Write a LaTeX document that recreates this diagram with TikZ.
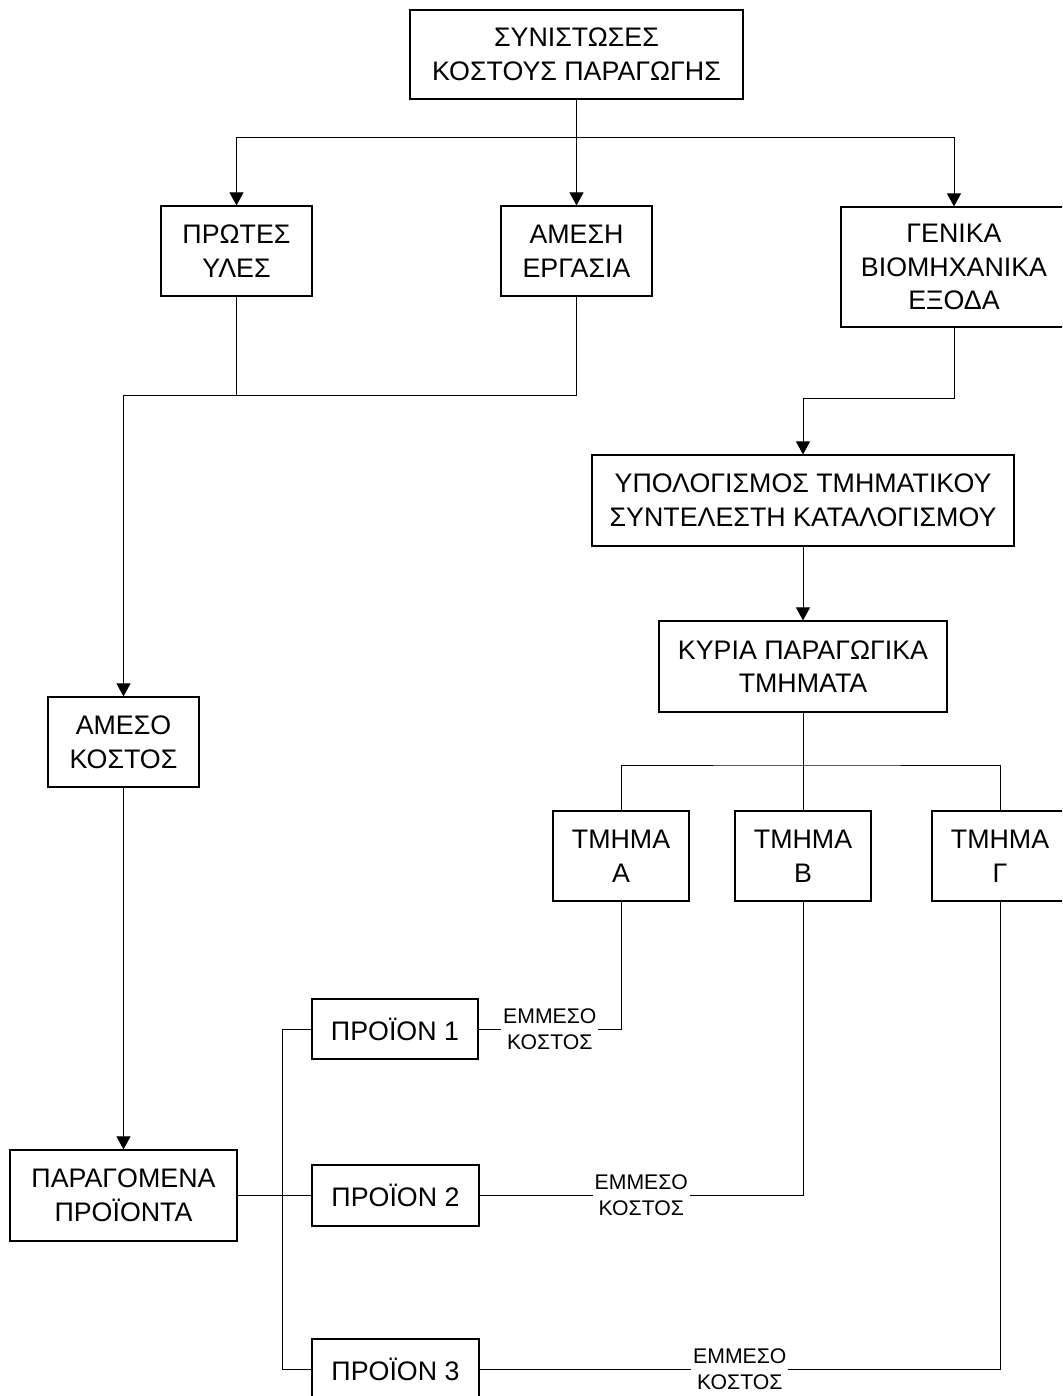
\documentclass[tikz,border=0pt]{standalone}
\usepackage{fontspec}
\setmainfont{Liberation Sans}
\usetikzlibrary{arrows.meta}
\begin{document}
\begin{tikzpicture}[x=0.5pt,y=-0.5pt,
  box/.style={draw, line width=0.6pt, fill=white, align=center, inner sep=0pt,
    font=\fontsize{13.4pt}{16.8pt}\selectfont},
  cost/.style={fill=white, align=center, inner xsep=1pt, inner ysep=1pt,
    font=\fontsize{10.6pt}{13pt}\selectfont},
  wire/.style={line width=0.5pt},
  feed/.style={wire, -{Triangle[length=6.5pt,width=7pt]}}]

\useasboundingbox (0,0) rectangle (1062,1396);
\fill[white] (0,0) rectangle (1062,1396);
\clip (0,0) rectangle (1062,1396);

% cost components
\node[box, minimum width=166.5pt, minimum height=44.5pt] (top) at (576.5,54.5)
  {ΣΥΝΙΣΤΩΣΕΣ\\ΚΟΣΤΟΥΣ ΠΑΡΑΓΩΓΗΣ};
\node[box, minimum width=75.5pt, minimum height=45pt] (protes) at (236.5,251)
  {ΠΡΩΤΕΣ\\ΥΛΕΣ};
\node[box, minimum width=75.5pt, minimum height=45pt] (ergasia) at (576.5,251)
  {ΑΜΕΣΗ\\ΕΡΓΑΣΙΑ};
\node[box, minimum width=113pt, minimum height=60pt] (genika) at (954,267)
  {ΓΕΝΙΚΑ\\ΒΙΟΜΗΧΑΝΙΚΑ\\ΕΞΟΔΑ};

% overhead allocation
\node[box, minimum width=211pt, minimum height=45.5pt] (ypol) at (803,500.5)
  {ΥΠΟΛΟΓΙΣΜΟΣ ΤΜΗΜΑΤΙΚΟΥ\\ΣΥΝΤΕΛΕΣΤΗ ΚΑΤΑΛΟΓΙΣΜΟΥ};
\node[box, minimum width=144pt, minimum height=45.5pt] (kyria) at (803,666.5)
  {ΚΥΡΙΑ ΠΑΡΑΓΩΓΙΚΑ\\ΤΜΗΜΑΤΑ};
\node[box, minimum width=68pt, minimum height=45pt] (tmA) at (621,856)
  {ΤΜΗΜΑ\\Α};
\node[box, minimum width=68pt, minimum height=45pt] (tmB) at (803,856)
  {ΤΜΗΜΑ\\Β};
\node[box, minimum width=68pt, minimum height=45pt] (tmG) at (1000,856)
  {ΤΜΗΜΑ\\Γ};

% direct cost and products
\node[box, minimum width=75.5pt, minimum height=45pt] (ameso) at (123.5,742)
  {ΑΜΕΣΟ\\ΚΟΣΤΟΣ};
\node[box, minimum width=113.5pt, minimum height=45.5pt] (parag) at (123.5,1195.5)
  {ΠΑΡΑΓΟΜΕΝΑ\\ΠΡΟΪΟΝΤΑ};
\node[box, minimum width=83pt, minimum height=30pt] (p1) at (395,1029)
  {ΠΡΟΪΟΝ 1};
\node[box, minimum width=83.5pt, minimum height=30.5pt] (p2) at (395.5,1195.5)
  {ΠΡΟΪΟΝ 2};
\node[box, minimum width=83.5pt, minimum height=30pt] (p3) at (395.5,1369)
  {ΠΡΟΪΟΝ 3};

% split of the cost components
\coordinate (fork) at (576.5,138);
\draw[feed] (top.south) -- (ergasia.north);
\draw[feed] (fork) -| (protes.north);
\draw[feed] (fork) -| (genika.north);

% direct materials and labour
\coordinate (dirjoin) at (123.5,395);
\draw[feed] (ergasia.south) |- (dirjoin) -- (ameso.north);
\draw[wire] (protes.south) -- (protes.south |- dirjoin);
\draw[feed] (ameso.south) -- (parag.north);

% overheads
\draw[feed] (genika.south) -- ++(0,71) -| (ypol.north);
\draw[feed] (ypol.south) -- (kyria.north);
\coordinate (deptbus) at (803,765);
\draw[wire] (kyria.south) -- (deptbus);
\draw[wire] (tmA.north) |- (deptbus) -| (tmG.north);
\draw[wire] (deptbus) -- (tmB.north);

% indirect cost to each product
\draw[wire] (tmA.south) |- (p1.east) node[cost, pos=0.75] {ΕΜΜΕΣΟ\\ΚΟΣΤΟΣ};
\draw[wire] (tmB.south) |- (p2.east) node[cost, pos=0.75] {ΕΜΜΕΣΟ\\ΚΟΣΤΟΣ};
\draw[wire] (tmG.south) |- (p3.east) node[cost, pos=0.75] {ΕΜΜΕΣΟ\\ΚΟΣΤΟΣ};

% products
\draw[wire] (parag.east) -- (p2.west);
\draw[wire] (p1.west) -- ++(-29,0) |- (p3.west);
\end{tikzpicture}
\end{document}
